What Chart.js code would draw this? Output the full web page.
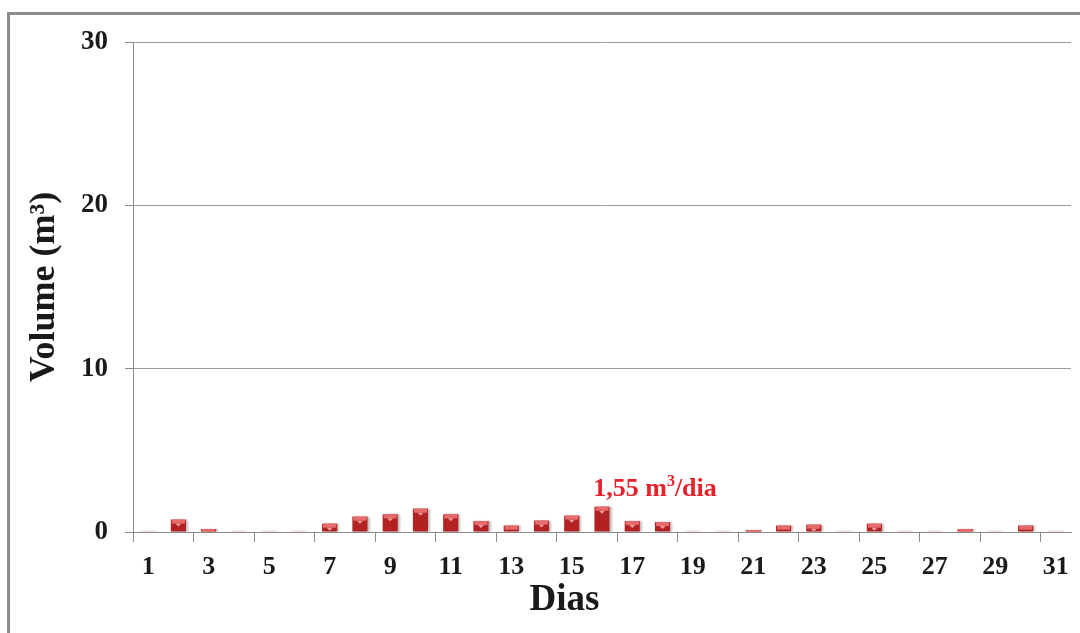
<!DOCTYPE html>
<html>
<head>
<meta charset="utf-8">
<script src="https://cdn.jsdelivr.net/npm/chart.js@4.4.0/dist/chart.umd.min.js"></script>
<style>
html, body { margin: 0; padding: 0; background: #fff; overflow: hidden; }
#marco { position: absolute; left: 7px; top: 12px; width: 1100px; height: 660px; border: 3px solid #8c8c8c; }
#caja { position: absolute; left: 0; top: 0; width: 1080px; height: 633px; }
</style>
</head>
<body>
<div id="marco"></div>
<div id="caja"><canvas id="grafico"></canvas></div>
<script>
const dias = ['1','2','3','4','5','6','7','8','9','10','11','12','13','14','15','16',
              '17','18','19','20','21','22','23','24','25','26','27','28','29','30','31'];
const volumenes = [0, 0.76, 0.18, 0, 0, 0, 0.51, 0.94, 1.08, 1.43, 1.08, 0.67, 0.39, 0.70, 1.00, 1.55,
                   0.67, 0.61, 0, 0, 0.12, 0.39, 0.45, 0, 0.51, 0, 0, 0.18, 0, 0.39, 0];
const marcasY = [0, 10, 20, 30];
const diaPico = '16';
const rotuloPico = ['1,55 m', '3', '/dia'];
const tituloX = 'Dias';

const fuente = "'Liberation Serif', 'Times New Roman', serif";

function degradadoBarra(ctx) {
    const barra = ctx.element;
    if (!barra || barra.width === undefined) return '#b22222';
    const c = ctx.chart.ctx;
    const g = c.createLinearGradient(barra.x - barra.width / 2, 0, barra.x + barra.width / 2, 0);
    g.addColorStop(0, '#7a1212');
    g.addColorStop(0.35, '#cc3535');
    g.addColorStop(0.6, '#ba2727');
    g.addColorStop(1, '#6e0e0e');
    return g;
}

// tapa clara de cada barra, rotulo del pico y titulo del eje x
const tapas = {
    id: 'tapas',
    afterDatasetsDraw(chart) {
        const c = chart.ctx;
        const meta = chart.getDatasetMeta(0);
        meta.data.forEach((barra, i) => {
            const w = barra.width;
            const izq = barra.x - w / 2;
            c.save();
            if (!volumenes[i]) {
                c.fillStyle = 'rgba(230,150,150,0.35)';
                c.fillRect(izq, barra.base - 1.5, w, 1.5);
                c.restore();
                return;
            }
            const alto = barra.base - barra.y;
            const tapa = Math.min(4, alto);
            c.fillStyle = '#e86a6a';
            c.fillRect(izq + 1, barra.y, w - 2, tapa);
            if (alto > 6) {
                c.fillStyle = '#f29a9a';
                c.beginPath();
                c.moveTo(barra.x - 3, barra.y + tapa);
                c.lineTo(barra.x + 3, barra.y + tapa);
                c.lineTo(barra.x, barra.y + tapa + 3);
                c.closePath();
                c.fill();
            }
            c.restore();
        });

        const pico = meta.data[dias.indexOf(diaPico)];
        c.save();
        c.fillStyle = '#e8202a';
        c.textBaseline = 'alphabetic';
        c.font = 'bold 26px ' + fuente;
        const w1 = c.measureText(rotuloPico[0]).width;
        const w3 = c.measureText(rotuloPico[2]).width;
        c.font = 'bold 16px ' + fuente;
        const w2 = c.measureText(rotuloPico[1]).width;
        let x = pico.x + 53 - (w1 + w2 + w3) / 2;
        const y = pico.y - 11;
        c.font = 'bold 26px ' + fuente;
        c.fillText(rotuloPico[0], x, y);
        x += w1;
        c.font = 'bold 16px ' + fuente;
        c.fillText(rotuloPico[1], x, y - 10);
        x += w2;
        c.font = 'bold 26px ' + fuente;
        c.fillText(rotuloPico[2], x, y);
        c.restore();

        const area = chart.chartArea;
        c.save();
        c.fillStyle = '#1a1a1a';
        c.font = 'bold 37px ' + fuente;
        c.textAlign = 'center';
        c.textBaseline = 'alphabetic';
        c.fillText(tituloX, area.left + (area.right - area.left) * 0.46, area.bottom + 78);
        c.restore();
    }
};

const sombra = {
    id: 'sombra',
    beforeDatasetsDraw(chart) {
        const c = chart.ctx;
        c.save();
        c.shadowColor = 'rgba(0,0,0,0.25)';
        c.shadowOffsetX = 2;
        c.shadowOffsetY = 0;
        c.shadowBlur = 2;
    },
    afterDatasetsDraw(chart) {
        chart.ctx.restore();
    }
};

new Chart(document.getElementById('grafico'), {
    type: 'bar',
    data: {
        labels: dias,
        datasets: [{
            data: volumenes,
            backgroundColor: degradadoBarra,
            borderWidth: 0,
            barPercentage: 0.5,
            categoryPercentage: 1
        }]
    },
    options: {
        responsive: true,
        maintainAspectRatio: false,
        animation: false,
        layout: { padding: { top: 42, right: 9, left: 0, bottom: 0 } },
        plugins: {
            legend: { display: false },
            tooltip: { enabled: false }
        },
        scales: {
            x: {
                offset: true,
                grid: {
                    offset: true,
                    drawOnChartArea: false,
                    tickLength: 10,
                    tickColor: ctx => (ctx.index !== undefined && ctx.index % 2 === 0) ? '#8c8c8c' : 'rgba(0,0,0,0)'
                },
                border: { color: '#8c8c8c', width: 1 },
                ticks: {
                    autoSkip: false,
                    maxRotation: 0,
                    padding: 10,
                    color: '#1a1a1a',
                    font: { family: fuente, size: 26, weight: 'bold' },
                    callback: function (v, i) { return i % 2 === 0 ? dias[i] : ''; }
                },
                afterFit: s => { s.height = 101; }
            },
            y: {
                min: 0,
                max: 30,
                afterBuildTicks: s => { s.ticks = marcasY.map(v => ({ value: v })); },
                grid: { color: '#9a9a9a', tickLength: 8, tickColor: '#8c8c8c' },
                border: { color: '#8c8c8c', width: 1 },
                ticks: {
                    padding: 17,
                    color: '#1a1a1a',
                    font: { family: fuente, size: 27, weight: 'bold' }
                },
                title: {
                    display: true,
                    text: 'Volume (m³)',
                    color: '#1a1a1a',
                    padding: { top: 23, bottom: 0 },
                    font: { family: fuente, size: 36, weight: 'bold' }
                },
                afterFit: s => { s.width = 133; }
            }
        }
    },
    plugins: [sombra, tapas]
});
</script>
</body>
</html>
